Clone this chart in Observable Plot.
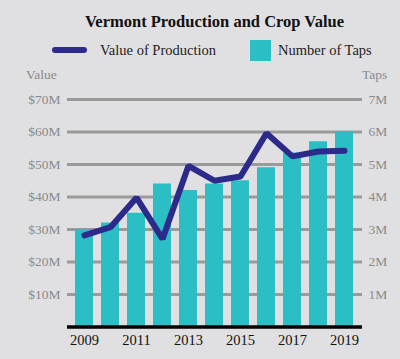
<!DOCTYPE html>
<html>
<head>
<meta charset="utf-8">
<script src="https://cdn.jsdelivr.net/npm/d3@7"></script>
<script src="https://cdn.jsdelivr.net/npm/@observablehq/plot@0.6"></script>
<style>
  html, body { margin: 0; padding: 0; }
  body { width: 400px; height: 359px; background: #e0e0e2; position: relative; overflow: hidden;
         font-family: "Liberation Serif", "DejaVu Serif", serif; }
  .abs { position: absolute; white-space: nowrap; }
  #title { left: 0; width: 429px; top: 11px; text-align: center; font-weight: bold; font-size: 16.5px; color: #111; line-height: 22px; }
  .legtext { font-size: 14.5px; color: #222; line-height: 20px; top: 40px; }
  .axlab { font-size: 13.5px; color: #8a8a8a; line-height: 18px; top: 66px; }
  #chart { position: absolute; left: 0; top: 64px; }
</style>
</head>
<body>
<div id="title" class="abs">Vermont Production and Crop Value</div>
<div class="abs" style="left:52px;top:47px;width:35px;height:6px;border-radius:3px;background:#2c2a8a;"></div>
<div class="abs legtext" style="left:100px;">Value of Production</div>
<div class="abs" style="left:250px;top:40px;width:21px;height:21px;background:#2bbec4;"></div>
<div class="abs legtext" style="left:278px;">Number of Taps</div>
<div class="abs axlab" style="left:26px;">Value</div>
<div class="abs axlab" style="left:362px;">Taps</div>
<div id="chart"></div>
<script>
const years = [2009, 2010, 2011, 2012, 2013, 2014, 2015, 2016, 2017, 2018, 2019];
const tapsMillions = [3.0, 3.2, 3.5, 4.4, 4.2, 4.4, 4.5, 4.9, 5.35, 5.7, 6.0];
const valueMillions = [28.2, 30.7, 39.8, 27.1, 49.6, 45.0, 46.3, 59.6, 52.5, 54.0, 54.2];
const valueTicks = [10, 20, 30, 40, 50, 60, 70];
const tapTicks = [1, 2, 3, 4, 5, 6, 7];
const yearTicks = [2009, 2011, 2013, 2015, 2017, 2019];

const data = years.map((year, i) => ({year, taps: tapsMillions[i], value: valueMillions[i]}));

const chart = Plot.plot({
  width: 400,
  height: 295,
  marginLeft: 67,
  marginRight: 38,
  marginTop: 35,
  marginBottom: 32.5,
  style: {background: "transparent", fontFamily: "'Liberation Serif', serif", fontSize: "13.5px"},
  x: {type: "band", domain: years, padding: 0.3, label: null},
  y: {domain: [0, 70], label: null},
  marks: [
    Plot.ruleY(valueTicks, {stroke: "#9a9a9a", strokeWidth: 3}),
    Plot.barY(data, {x: "year", y: d => d.taps * 10, fill: "#2bbec4"}),
    Plot.ruleY([0], {stroke: "#000", strokeWidth: 3.5}),
    Plot.line(data, {x: "year", y: "value", stroke: "#2c2a8a", strokeWidth: 6, strokeLinejoin: "miter", strokeLinecap: "round"}),
    Plot.axisY(valueTicks, {anchor: "left", tickSize: 0, tickPadding: 7, tickFormat: d => `$${d}M`, fill: "#8a8a8a", label: null}),
    Plot.axisY(valueTicks, {anchor: "right", tickSize: 0, tickPadding: 6, tickFormat: (d, i) => `${tapTicks[i]}M`, fill: "#8a8a8a", label: null}),
    Plot.axisX(yearTicks, {tickSize: 0, tickPadding: 8, fontSize: 14.5, fill: "#111", tickFormat: d => String(d), label: null})
  ]
});
document.getElementById("chart").appendChild(chart);
</script>
</body>
</html>
